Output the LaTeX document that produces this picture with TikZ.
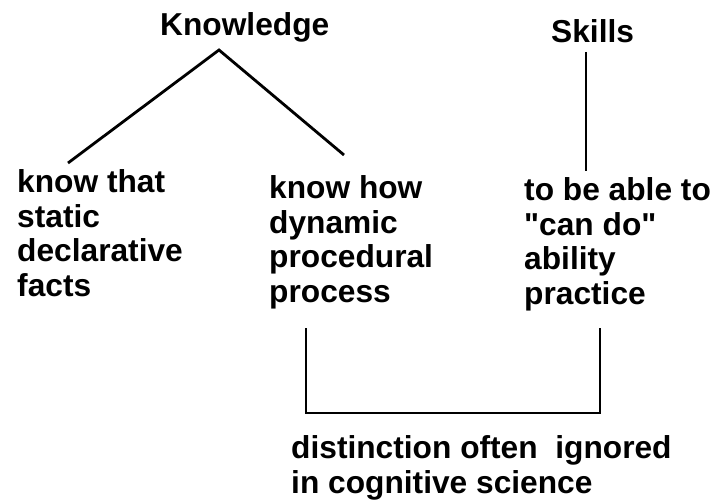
\documentclass[tikz,border=0pt]{standalone}
\usepackage{fontspec}
\setmainfont{Liberation Sans}
\usepackage{tikz}

\begin{document}
\begin{tikzpicture}
  [
    x=1pt, y=-1pt,
    word/.style = {font=\bfseries\fontsize{31.7}{34.4}\selectfont, inner sep=0pt, anchor=base west, align=left},
    link/.style = {line width=2.8pt},
    rule/.style = {line width=2.4pt},
  ]

%Page frame, y grows downwards
\fill[white] (0,0) rectangle (714,503);
\useasboundingbox (0,0) rectangle (714,503);

%Two headings
\node[word] (knowledge) at (160,36) {Knowledge};
\node[word] (skills)    at (551,42) {Skills};

%The three columns (base = last line)
\node[word] (that) at (17,296)  {know that\\static\\declarative\\facts};
\node[word] (how)  at (269,302) {know how\\dynamic\\procedural\\process};
\node[word] (able) at (524,304) {to be able to\\\textquotedbl can do\textquotedbl\\ability\\practice};

%Note under the bracket
\node[word] (note) at (291,493) {distinction often~~ignored\\in cognitive science};

%Ends of the connectors
\coordinate (apex)    at (219,50);
\coordinate (thattop) at (68,163);
\coordinate (howtop)  at (344,155);
\coordinate (sktop)   at (586,52);
\coordinate (skbot)   at (586,171);
\coordinate (howbot)  at (306,328);
\coordinate (ablebot) at (600,328);
\coordinate (brleft)  at (306,413);
\coordinate (brright) at (600,413);

%Tree of knowledge
\draw[link] (thattop) -- (apex) -- (howtop);
\draw[rule] (sktop) -- (skbot);

%Bracket joining how and able
\draw[rule] (howbot) -- (brleft) -- (brright) -- (ablebot);
\end{tikzpicture}
\end{document}
